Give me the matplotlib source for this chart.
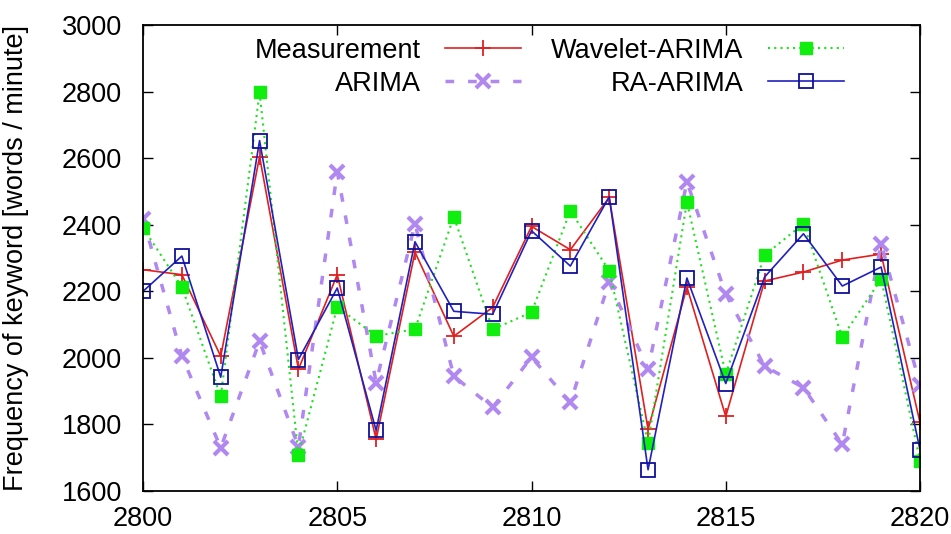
import matplotlib
matplotlib.use("Agg")
import matplotlib.pyplot as plt

# データ
x = list(range(2800, 2821))
measurement = [2265, 2250, 2005, 2605, 1966, 2250, 1755, 2318, 2065, 2152, 2395,
               2325, 2482, 1785, 2213, 1824, 2231, 2258, 2294, 2312, 1806]
wavelet_arima = [2391, 2213, 1884, 2798, 1709, 2153, 2066, 2086, 2424, 2086, 2137,
                 2442, 2262, 1745, 2469, 1951, 2309, 2403, 2062, 2237, 1691]
arima = [2418, 2005, 1730, 2050, 1733, 2559, 1926, 2403, 1945, 1851, 2002,
         1866, 2228, 1966, 2529, 2192, 1975, 1911, 1740, 2343, 1920]
ra_arima = [2200, 2306, 1942, 2653, 1995, 2210, 1782, 2349, 2140, 2131, 2382,
            2276, 2484, 1664, 2240, 1923, 2243, 2373, 2216, 2273, 1724]
xticks = [2800, 2805, 2810, 2815, 2820]
yticks = [1600, 1800, 2000, 2200, 2400, 2600, 2800, 3000]

plt.rcParams["font.family"] = ["Liberation Sans", "DejaVu Sans"]
plt.rcParams["font.size"] = 19.5

fig = plt.figure(figsize=(9.51, 5.34), dpi=100)
ax = fig.add_axes([0.1504, 0.0805, 0.817, 0.8725])

ax.plot(x, measurement, color="#e02020", lw=1.2, marker="+", ms=12, mew=1.3,
        label="Measurement")
ax.plot(x, arima, color="#b088f0", lw=2.5, ls=(0, (2.5, 4)), marker="x", ms=10, mew=3,
        label="ARIMA")
ax.plot(x, wavelet_arima, color="#20e020", lw=1.5, ls=(0, (1, 2)), marker="s", ms=9,
        mfc="#10ee10", mec="#10ee10", label="Wavelet-ARIMA")
ax.plot(x, ra_arima, color="#2020c0", lw=1.2, marker="s", ms=10, mfc="none",
        mec="#101098", mew=1.3, label="RA-ARIMA")

ax.set_xlim(2800, 2820)
ax.set_ylim(1600, 3000)
ax.set_xticks(xticks)
ax.set_yticks(yticks)
ax.tick_params(direction="in", length=7, width=1, top=True, right=True)
ax.tick_params(axis="y", pad=15)
ax.tick_params(axis="x", pad=11)
for s in ax.spines.values():
    s.set_linewidth(1.3)
ax.set_ylabel("Frequency of keyword [words / minute]")
ax.yaxis.set_label_coords(-0.147, 0.5)

# 凡例（2列、ラベルを先に）
ax.legend(ncol=2, markerfirst=False, frameon=False, loc="upper center",
          bbox_to_anchor=(0.523, 1.025), handlelength=2.8, columnspacing=1.1,
          labelspacing=0.25, handletextpad=0.9)

fig.savefig("out.png", dpi=100)
